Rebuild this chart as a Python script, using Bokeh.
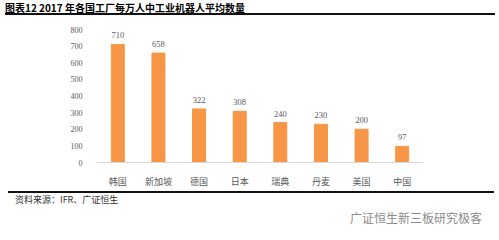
from bokeh.plotting import figure
from bokeh.models import ColumnDataSource, LabelSet, FactorRange, Div
from bokeh.layouts import column
from bokeh.core.properties import value
from bokeh.embed import file_html
from bokeh.resources import INLINE

countries = ["韩国", "新加坡", "德国", "日本", "瑞典", "丹麦", "美国", "中国"]
robots = [710, 658, 322, 308, 240, 230, 200, 97]
y_ticks = [0, 100, 200, 300, 400, 500, 600, 700, 800]
title_text = "图表12 2017 年各国工厂每万人中工业机器人平均数量"
source_text = "资料来源：IFR、广证恒生"
watermark_text = "广证恒生新三板研究极客"

W, H = 499, 240
TOP_H = 18
FIG_H = 172
BOT_H = H - TOP_H - FIG_H

src = ColumnDataSource(dict(c=countries, v=robots, t=[str(r) for r in robots]))

p = figure(width=W, height=FIG_H, x_range=FactorRange(*countries), y_range=(0, 800),
           output_backend="svg", toolbar_location=None,
           min_border_left=97, min_border_right=77, min_border_top=11, min_border_bottom=24)
p.outline_line_color = None
p.grid.grid_line_color = None
p.background_fill_color = "white"

p.vbar(x="c", top="v", width=0.32, source=src, color="#F79646")
p.add_layout(LabelSet(x="c", y="v", text="t", source=src, text_align="center",
                      text_baseline="bottom", y_offset=6, text_font_size="8.5px",
                      text_color="#595959", text_font=value("Liberation Serif")))

p.yaxis.ticker = y_ticks
p.yaxis.axis_line_color = None
p.yaxis.major_tick_line_color = None
p.yaxis.minor_tick_line_color = None
p.yaxis.major_label_text_font = "Liberation Serif"
p.yaxis.major_label_text_font_size = "8px"
p.yaxis.major_label_text_color = "#595959"
p.yaxis.major_label_standoff = 9

p.xaxis.axis_line_color = "#D9D9D9"
p.xaxis.major_tick_line_color = None
p.xaxis.minor_tick_line_color = None
p.xaxis.major_label_text_font = "Noto Sans CJK SC"
p.xaxis.major_label_text_font_size = "9px"
p.xaxis.major_label_text_color = "#595959"
p.xaxis.major_label_standoff = 6

head = Div(width=W, height=TOP_H, margin=(0, 0, 0, 0),
           text=(f"<div style=\"margin-left:5px;width:490px;height:15px;line-height:15px;"
                 f"border-bottom:2px solid #111;font-family:'Noto Sans CJK SC';font-weight:bold;"
                 f"font-size:10px;color:#000;white-space:nowrap\">{title_text}</div>"))

foot = Div(width=W, height=BOT_H, margin=(0, 0, 0, 0),
           text=(f"<div style=\"position:relative;width:{W}px;height:{BOT_H}px\">"
                 f"<div style=\"position:absolute;left:8px;top:1px;width:486px;height:0;"
                 f"border-top:2px solid #111\"></div>"
                 f"<div style=\"position:absolute;left:15px;top:4px;font-family:'Noto Sans CJK SC';"
                 f"font-size:9px;line-height:12px;color:#333;white-space:nowrap\">{source_text}</div>"
                 f"<div style=\"position:absolute;right:17px;top:20px;font-family:'Noto Sans CJK SC';"
                 f"font-size:12px;line-height:15px;color:#8C8C8C;white-space:nowrap\">{watermark_text}</div>"
                 f"</div>"))

layout = column(head, p, foot, spacing=0)
open("out.html", "w").write(file_html(layout, INLINE))
